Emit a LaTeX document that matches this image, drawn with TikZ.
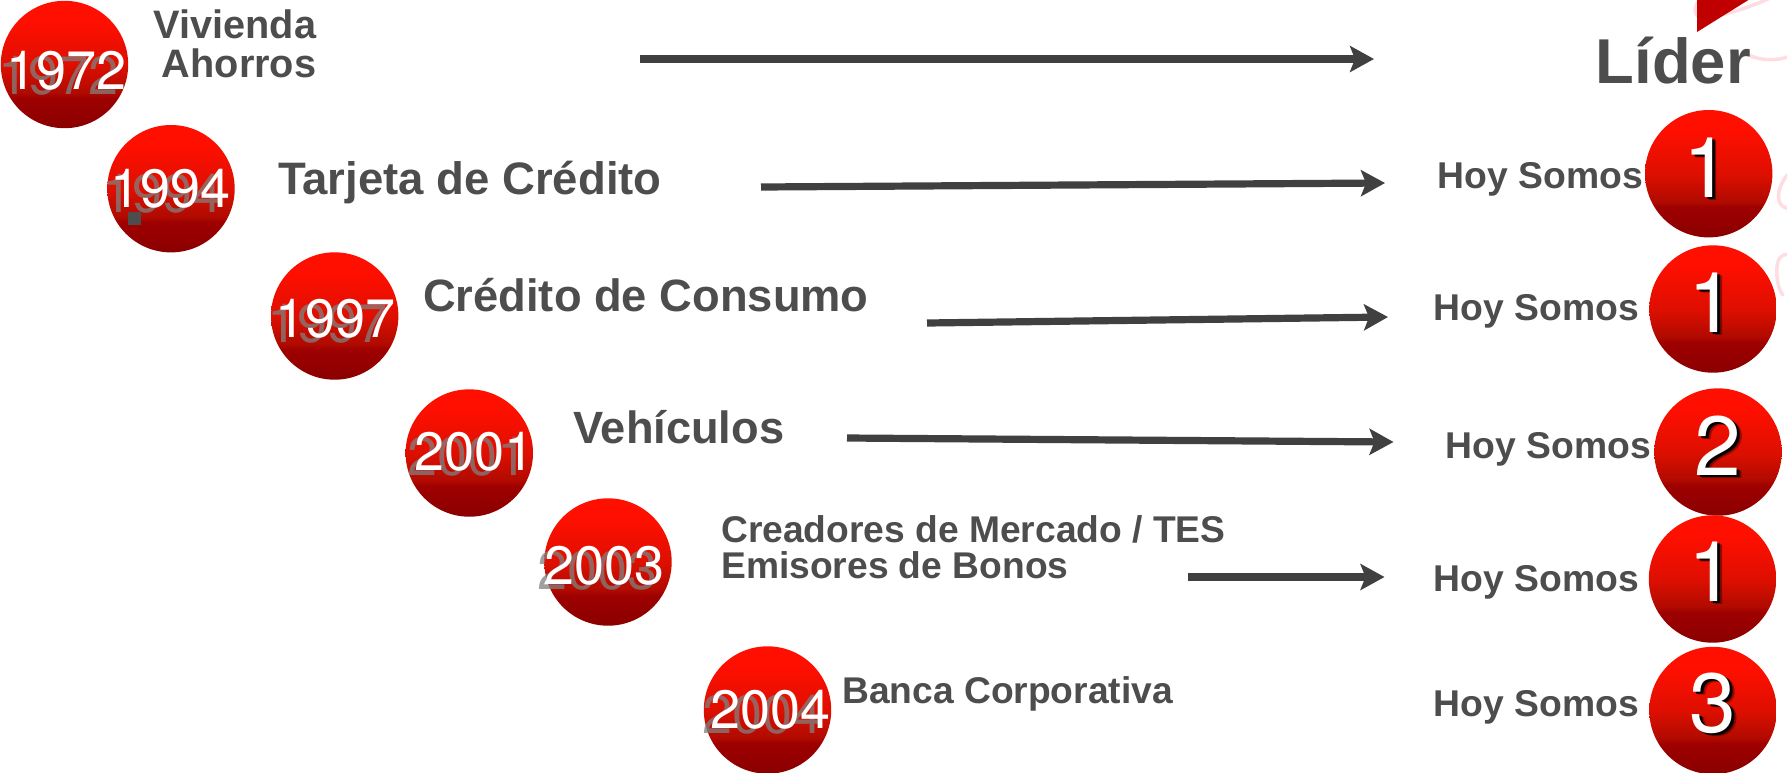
\documentclass[tikz,border=0pt]{standalone}
\usepackage{fontspec}
\setmainfont{Liberation Sans}
\newfontfamily\digitfont{TeX Gyre Heros}
\usetikzlibrary{arrows.meta}
\definecolor{inkgray}{HTML}{4D4D4D}
\definecolor{arrowgray}{HTML}{404040}
\definecolor{ghostgray}{HTML}{808080}
\definecolor{palepink}{HTML}{FFDCE2}
\definecolor{wedgered}{HTML}{C00000}
\pgfdeclareverticalshading{ballred}{100bp}{
  rgb(0bp)=(0.545,0,0);
  rgb(25bp)=(0.545,0,0);
  rgb(37bp)=(0.62,0,0);
  rgb(39bp)=(0.69,0.04,0);
  rgb(50bp)=(0.87,0.06,0);
  rgb(67bp)=(1,0.06,0);
  rgb(75bp)=(1,0.06,0);
  rgb(100bp)=(1,0.06,0)}
\tikzset{
  x=1pt,y=-1pt,
  ball/.style={circle,shade,shading=ballred,minimum size=127.4pt,inner sep=0pt,draw=none},
  lbl/.style={text=inkgray,inner sep=0pt,font={\bfseries\fontsize{#1}{36}\selectfont}},
  hoy/.style={text=inkgray,inner sep=0pt,anchor=base west,font={\bfseries\fontsize{37.3}{37.3}\selectfont}},
  yearwhite/.style={text=white,inner sep=0pt,anchor=base west,font={\digitfont\fontsize{54}{54}\selectfont}},
  yearghost/.style={text=ghostgray,text opacity=0.75,inner sep=0pt,anchor=base west,font={\digitfont\fontsize{54}{54}\selectfont}},
  rankwhite/.style={text=white,inner sep=0pt,anchor=base,font={\digitfont\fontsize{84}{84}\selectfont}},
  rankshadow/.style={text=black,text opacity=#1,inner sep=0pt,anchor=base,font={\digitfont\fontsize{84}{84}\selectfont}},
  longarrow/.style={draw=arrowgray,line width=7.2pt,-{Stealth[length=24pt,width=26pt,inset=5pt,fill=arrowgray]}},
  pinkline/.style={draw=palepink,line width=3.5pt,line cap=round}
}
\newcommand{\myYear}[6]{%
  \node[ball] (#1) at (#2,#3) {};
  \node[yearghost] (#1g) at (#4-7.5,#5+5) {#6};
  \node[yearwhite] (#1w) at (#4,#5) {#6};
}
\newcommand{\myRank}[6]{%
  \node[ball] (#1) at (#2,#3) {};
  \node[rankshadow=0.35] (#1s) at (#4+4.5,#5+3.5) {#6};
  \node[rankshadow=0.95] (#1t) at (#4+3,#5+2.5) {#6};
  \node[rankwhite] (#1w) at (#4,#5) {#6};
}
\begin{document}
\begin{tikzpicture}
\useasboundingbox (0,0) rectangle (1787,772);
% faint background strokes
\draw[pinkline] (1770,-2) .. controls (1740,12) and (1700,22) .. (1696,14) .. controls (1694,8) and (1696,4) .. (1700,0);
\draw[pinkline] (1748,55) .. controls (1760,60) and (1775,62) .. (1790,56);
\draw[pinkline] (1790,172) .. controls (1780,182) and (1776,196) .. (1780,203) .. controls (1782,207) and (1786,208) .. (1790,209);
\draw[pinkline] (1790,254) .. controls (1778,254) and (1776,262) .. (1777,277) .. controls (1778,286) and (1780,292) .. (1783,295);
\fill[wedgered] (1697,-1) -- (1697,32) -- (1750,-1) -- cycle;

% left year balls
\myYear{a}{64.5}{64.5}{6}{89}{1972}
\myYear{b}{171}{188.7}{110}{207}{1994}
\myYear{c}{334.7}{316}{275}{337}{1997}
\myYear{d}{469.3}{453}{414.5}{470}{2001}
\myYear{e}{608}{562}{544.5}{584}{2003}
\myYear{f}{767.5}{710}{710}{728}{2004}
\node[fill=inkgray,minimum size=13pt,inner sep=0pt] (dot) at (134.5,218.5) {};

% right rank balls
\myRank{p}{1708.7}{173.7}{1706.5}{197}{1}
\myRank{q}{1713}{309}{1712}{332}{1}
\myRank{r}{1718}{452}{1718}{475}{2}
\myRank{s}{1712.5}{579}{1712}{601}{1}
\myRank{t}{1713}{710.5}{1713}{732}{3}

% labels
\node[lbl=39.7,anchor=base east,align=right,font={\bfseries\fontsize{39.7}{39}\selectfont}] (l1) at (316.5,77) {Vivienda\\Ahorros};
\node[lbl=45.5,anchor=base west] (l2) at (278,194) {Tarjeta de Crédito};
\node[lbl=45.3,anchor=base west] (l3) at (423,311) {Crédito de Consumo};
\node[lbl=45.2,anchor=base west] (l4) at (573,443) {Vehículos};
\node[lbl=37.2,anchor=base west,align=left] (l5) at (721,578) {Creadores de Mercado / TES\\Emisores de Bonos};
\node[lbl=37.2,anchor=base west] (l6) at (842,703) {Banca Corporativa};
\node[lbl=63.4,anchor=base west] (lider) at (1595.5,83) {Líder};

\node[hoy] (h1) at (1437.5,188) {Hoy Somos};
\node[hoy] (h2) at (1433.5,320) {Hoy Somos};
\node[hoy] (h3) at (1445.5,458) {Hoy Somos};
\node[hoy] (h4) at (1433.5,591) {Hoy Somos};
\node[hoy] (h5) at (1433.5,716) {Hoy Somos};

% arrows
\coordinate (a1s) at (640,59); \coordinate (a1e) at (1374,59);
\coordinate (a2s) at (761,187); \coordinate (a2e) at (1385,183);
\coordinate (a3s) at (927,323); \coordinate (a3e) at (1388,317);
\coordinate (a4s) at (847,438); \coordinate (a4e) at (1393.5,442);
\coordinate (a5s) at (1188,577); \coordinate (a5e) at (1384.5,577);
\draw[longarrow] (a1s) -- (a1e);
\draw[longarrow] (a2s) -- (a2e);
\draw[longarrow] (a3s) -- (a3e);
\draw[longarrow] (a4s) -- (a4e);
\draw[longarrow] (a5s) -- (a5e);
\end{tikzpicture}
\end{document}
